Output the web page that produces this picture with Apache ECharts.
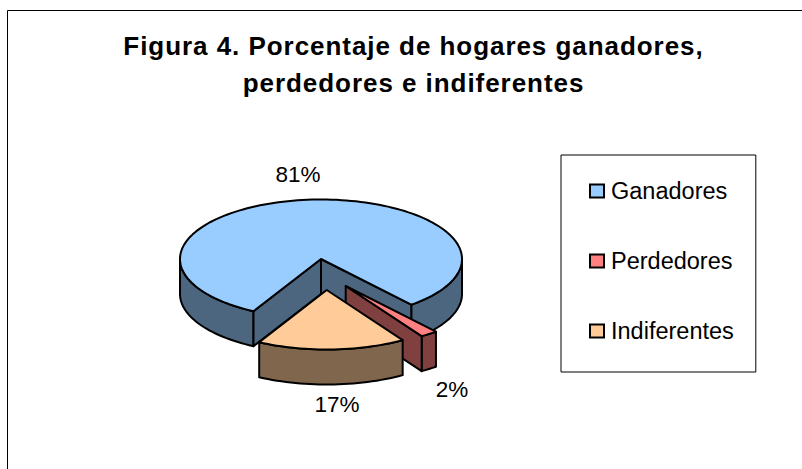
<!DOCTYPE html>
<html>
<head>
<meta charset="utf-8">
<style>html,body{margin:0;padding:0;background:#fff}#c{width:802px;height:469px}
#c svg text[style*="bold"]{letter-spacing:0.95px}</style>
<script src="https://cdn.jsdelivr.net/npm/echarts@6/dist/echarts.min.js"></script>
</head>
<body>
<div id="c"></div>
<script>
const categories = ['Ganadores', 'Perdedores', 'Indiferentes'];
const percentages = [81, 2, 17];
const titleLines = ['Figura 4. Porcentaje de hogares ganadores,', 'perdedores e indiferentes'];

const topColors = ['#99CCFF', '#FF8080', '#FFCC99'];
const wallColors = ['#4D6680', '#804040', '#80664D'];
const explode = [[0, 0], [24.7, 27], [5.7, 31]];
const labelAt = [[298, 174], [452, 389], [337, 404]];
const CX = 321, CY = 259, RX = 141, RY = 59.5, DEPTH = 35, START = 118.6;
const stroke = { stroke: '#000', lineWidth: 2, lineJoin: 'round' };

const total = percentages.reduce((a, b) => a + b, 0);
const rad = d => d * Math.PI / 180;

function arc(cx, cy, a0, a1, dy) {
  const pts = [], n = Math.max(2, Math.ceil(Math.abs(a1 - a0) / 2));
  for (let i = 0; i <= n; i++) {
    const a = rad(a0 + (a1 - a0) * i / n);
    pts.push([cx + RX * Math.cos(a), cy + RY * Math.sin(a) + (dy || 0)]);
  }
  return pts;
}
function poly(points, fill) {
  return { type: 'polygon', shape: { points }, style: Object.assign({ fill }, stroke) };
}
function sliceRenderer(idx) {
  return function (params, api) {
    const value = api.value(0);
    const before = percentages.slice(0, idx).reduce((a, b) => a + b, 0);
    const a0 = START + before / total * 360;
    const a1 = a0 + value / total * 360;
    const cx = CX + explode[idx][0], cy = CY + explode[idx][1];
    const children = [];
    const edge = a => {
      const x = cx + RX * Math.cos(rad(a)), y = cy + RY * Math.sin(rad(a));
      return [[cx, cy], [x, y], [x, y + DEPTH], [cx, cy + DEPTH]];
    };
    // outer rim: the parts of the sweep on the front half of the ellipse
    for (const [lo, hi] of [[0, 180], [360, 540]]) {
      const s = Math.max(a0, lo), e = Math.min(a1, hi);
      if (e > s) {
        const top = arc(cx, cy, s, e, 0), bot = arc(cx, cy, e, s, DEPTH);
        children.push(poly(top.concat(bot), wallColors[idx]));
      }
    }
    if (Math.cos(rad(a0)) < 0) children.push(poly(edge(a0), wallColors[idx]));
    if (Math.cos(rad(a1)) > 0) children.push(poly(edge(a1), wallColors[idx]));
    children.push(poly([[cx, cy]].concat(arc(cx, cy, a0, a1, 0)), topColors[idx]));
    children.push({
      type: 'text',
      style: {
        x: labelAt[idx][0], y: labelAt[idx][1],
        text: value + '%', fill: '#000', align: 'center', verticalAlign: 'middle',
        font: '22.5px "Liberation Sans", Arial, sans-serif'
      }
    });
    return { type: 'group', children };
  };
}

const chart = echarts.init(document.getElementById('c'), null, { renderer: 'svg' });
chart.setOption({
  animation: false,
  backgroundColor: '#fff',
  title: {
    text: titleLines.join('\n'),
    left: 408.5, top: 22, textAlign: 'center',
    textStyle: { fontFamily: '"Liberation Sans", Arial, sans-serif', fontWeight: 'bold', fontSize: 26, lineHeight: 37, color: '#000' }
  },
  legend: {
    orient: 'vertical', left: 561, top: 155,
    padding: [24, 22, 29, 28],
    itemWidth: 14, itemHeight: 13, itemGap: 46,
    backgroundColor: '#fff', borderColor: '#000', borderWidth: 1,
    icon: 'rect',
    selectedMode: false,
    itemStyle: { borderColor: '#000', borderWidth: 2 },
    textStyle: { fontFamily: '"Liberation Sans", Arial, sans-serif', fontSize: 23.5, color: '#000', padding: [0, 0, 0, 2] },
    data: categories
  },
  graphic: [{
    type: 'rect', silent: true, z: -1,
    shape: { x: 7.5, y: 10.5, width: 900, height: 600 },
    style: { fill: 'none', stroke: '#000', lineWidth: 1 }
  }],
  series: categories.map((name, i) => ({
    type: 'custom',
    name,
    coordinateSystem: 'none',
    itemStyle: { color: topColors[i] },
    renderItem: sliceRenderer(i),
    data: [[percentages[i]]],
    z: 2 + i,
    silent: true
  }))
});
</script>
</body>
</html>
